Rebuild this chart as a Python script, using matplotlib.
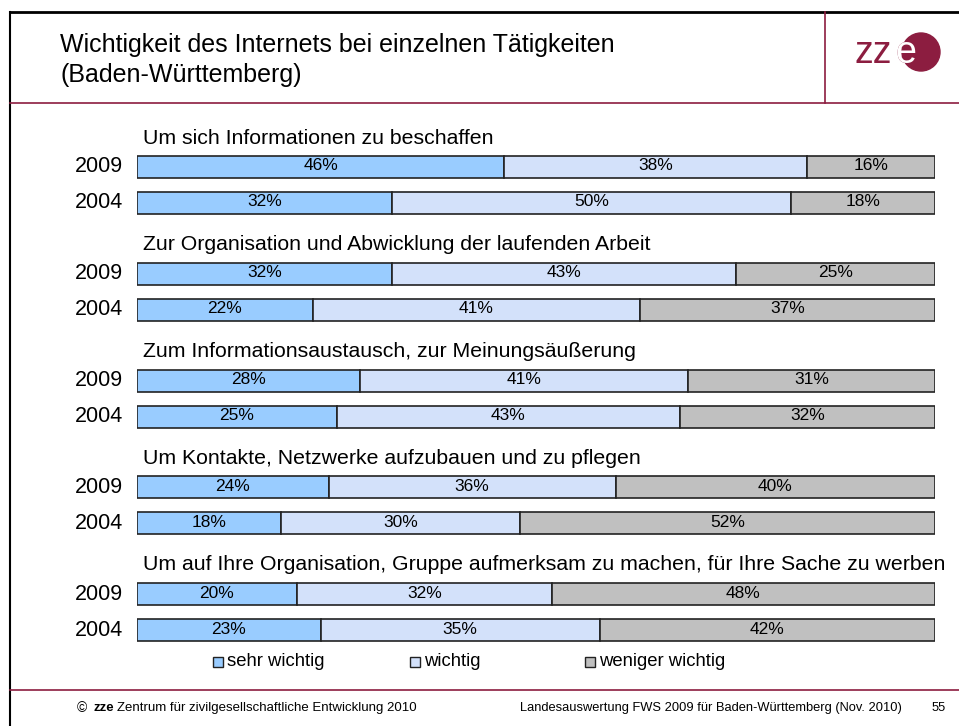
import matplotlib
matplotlib.use("Agg")
import matplotlib.pyplot as plt
from matplotlib.patches import Rectangle, Circle
from matplotlib.lines import Line2D

plt.rcParams["font.family"] = ["Liberation Sans", "DejaVu Sans"]

# Survey data: share of answers per activity, 2009 vs 2004
activities = [
    "Um sich Informationen zu beschaffen",
    "Zur Organisation und Abwicklung der laufenden Arbeit",
    "Zum Informationsaustausch, zur Meinungsäußerung",
    "Um Kontakte, Netzwerke aufzubauen und zu pflegen",
    "Um auf Ihre Organisation, Gruppe aufmerksam zu machen, für Ihre Sache zu werben",
]
years = ["2009", "2004"]
sehr_wichtig = [[46, 32], [32, 22], [28, 25], [24, 18], [20, 23]]
wichtig = [[38, 50], [43, 41], [41, 43], [36, 30], [32, 35]]
weniger_wichtig = [[16, 18], [25, 37], [31, 32], [40, 52], [48, 42]]

categories = ["sehr wichtig", "wichtig", "weniger wichtig"]
colors = ["#99ccff", "#d3e1fa", "#c0c0c0"]
red = "#8c1d40"

W, H = 959, 726
fig = plt.figure(figsize=(W / 100, H / 100), dpi=100)


def fx(x):
    return x / W


def fy(y):
    return 1 - y / H


# frame lines (pixel coordinates, y from top)
def px_line(x0, y0, x1, y1, color, lw):
    fig.add_artist(Line2D([fx(x0), fx(x1)], [fy(y0), fy(y1)],
                          color=color, lw=lw, transform=fig.transFigure))


px_line(10, 12, W, 12, "black", 2.0)
px_line(10, 12, 10, H, "black", 1.5)
px_line(10, 103, W, 103, red, 1.2)
px_line(825, 12, 825, 103, red, 1.2)
px_line(10, 690, W, 690, red, 1.2)

# title
fig.text(fx(60), fy(45), "Wichtigkeit des Internets bei einzelnen Tätigkeiten",
         fontsize=18, va="center", ha="left")
fig.text(fx(60), fy(75), "(Baden-Württemberg)", fontsize=18, va="center", ha="left")

# logo: "zz" plus an "e" that turns white inside the red disc
fig.text(fx(892), fy(63), "zz", fontsize=27, color=red, ha="right", va="baseline")
logo_ax = fig.add_axes([fx(885), fy(82), 60 / W, 60 / H])
logo_ax.set_xlim(0, 60)
logo_ax.set_ylim(0, 60)
logo_ax.axis("off")
disc = Circle((36, 30), 19, color=red)
logo_ax.add_patch(disc)
logo_ax.text(21, 19, "e", fontsize=27, color=red, ha="center", va="baseline")
e_white = logo_ax.text(21, 19, "e", fontsize=27, color="white", ha="center", va="baseline")
e_white.set_clip_path(disc)

# bar area
top, bottom = 120, 645
ax = fig.add_axes([fx(137), fy(bottom), (935 - 137) / W, (bottom - top) / H])
ax.set_xlim(0, 100)
ax.set_ylim(bottom, top)
ax.axis("off")

group_gap = 106.75
bar_h = 22
for i, name in enumerate(activities):
    y0 = 167 + group_gap * i
    ax.text(0.8, y0 - 29, name, fontsize=15.3, ha="left", va="center", clip_on=False)
    for j, year in enumerate(years):
        y = y0 + 36 * j
        vals = [sehr_wichtig[i][j], wichtig[i][j], weniger_wichtig[i][j]]
        left = 0
        for v, c in zip(vals, colors):
            ax.barh(y, v, left=left, height=bar_h, color=c, edgecolor="#222222", lw=1.2)
            ax.text(left + v / 2, y - 1, f"{v}%", fontsize=12.5, ha="center", va="center")
            left += v
        ax.text(-1.8, y, year, fontsize=15.5, ha="right", va="center", clip_on=False)

# legend
legend_x = [218, 415, 590]
for x, label, c in zip(legend_x, categories, colors):
    fig.add_artist(Rectangle((fx(x - 5), fy(667)), 10 / W, 10 / H, facecolor=c,
                             edgecolor="#222222", lw=1.0, transform=fig.transFigure))
    fig.text(fx(x + 9), fy(662), label, fontsize=13.3, ha="left", va="center")

# footer
fig.text(fx(77), fy(708), "©", fontsize=10, ha="left", va="center")
fig.text(fx(93), fy(708), "zze", fontsize=9.5, fontweight="bold", ha="left", va="center")
fig.text(fx(117), fy(708), "Zentrum für zivilgesellschaftliche Entwicklung 2010",
         fontsize=9.5, ha="left", va="center")
fig.text(fx(902), fy(708),
         "Landesauswertung FWS 2009 für Baden-Württemberg (Nov. 2010)",
         fontsize=9.3, ha="right", va="center")
fig.text(fx(932), fy(708), "55", fontsize=9.3, ha="left", va="center")

fig.savefig("out.png", dpi=100)
